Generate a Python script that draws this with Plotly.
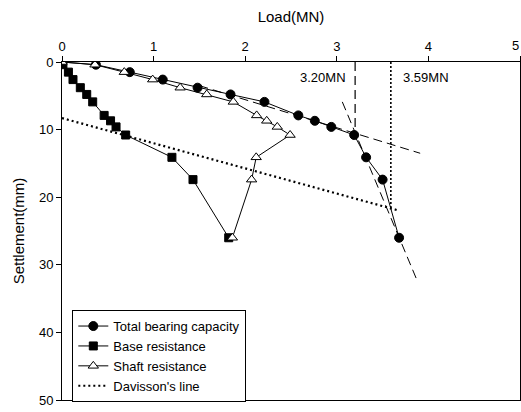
import plotly.graph_objects as go

# Static load test results: load (MN) vs pile-head settlement (mm)
settlement = [0, 0.4, 1.5, 2.6, 3.8, 4.8, 5.9, 7.9, 8.7, 9.6, 10.8, 14.1, 17.4, 26.0]
total_load = [0, 0.37, 0.74, 1.10, 1.48, 1.84, 2.21, 2.58, 2.76, 2.94, 3.19, 3.32, 3.50, 3.68]
base_load = [0, 0.01, 0.07, 0.12, 0.20, 0.27, 0.335, 0.46, 0.53, 0.59, 0.695, 1.20, 1.43, 1.82]
shaft_load = [0, 0.36, 0.68, 0.99, 1.29, 1.58, 1.87, 2.125, 2.235, 2.35, 2.49, 2.12, 2.07, 1.86]

# Davisson's offset line
davisson_load = [0, 3.67]
davisson_settle = [8.3, 21.95]

# Tangent construction lines (double-tangent method)
tangent1_load = [1.5, 3.91]
tangent1_settle = [3.5, 13.5]
tangent2_load = [3.06, 3.87]
tangent2_settle = [5.9, 32.1]

# Interpreted capacities
cap_tangent = 3.20
cap_tangent_settle = 10.5
cap_davisson = 3.59
cap_davisson_settle = 21.7

x_ticks = [0, 1, 2, 3, 4]
x_last_tick = 5
y_ticks = [0, 10, 20, 30, 40, 50]

FONT = "Arial, Liberation Sans, sans-serif"
BLACK = "#000000"

fig = go.Figure()

fig.add_trace(go.Scatter(
    x=total_load, y=settlement, mode="lines+markers", name="Total bearing capacity",
    line=dict(color=BLACK, width=1),
    marker=dict(symbol="circle", size=9, color=BLACK, line=dict(color=BLACK, width=1)),
))
fig.add_trace(go.Scatter(
    x=base_load, y=settlement, mode="lines+markers", name="Base resistance",
    line=dict(color=BLACK, width=1),
    marker=dict(symbol="square", size=8, color=BLACK, line=dict(color=BLACK, width=1)),
))
fig.add_trace(go.Scatter(
    x=shaft_load, y=settlement, mode="lines+markers", name="Shaft resistance",
    line=dict(color=BLACK, width=1),
    marker=dict(symbol="triangle-up", size=9, color="white", line=dict(color=BLACK, width=1)),
))
fig.add_trace(go.Scatter(
    x=davisson_load, y=davisson_settle, mode="lines", name="Davisson's line",
    line=dict(color=BLACK, width=2.2, dash="2px,3px"),
))

# construction lines
fig.add_trace(go.Scatter(
    x=tangent1_load, y=tangent1_settle, mode="lines", showlegend=False,
    line=dict(color=BLACK, width=1, dash="9px,5px"),
))
fig.add_trace(go.Scatter(
    x=tangent2_load, y=tangent2_settle, mode="lines", showlegend=False,
    line=dict(color=BLACK, width=1, dash="9px,5px"),
))
fig.add_trace(go.Scatter(
    x=[cap_tangent, cap_tangent], y=[0, cap_tangent_settle], mode="lines", showlegend=False,
    line=dict(color=BLACK, width=1.2, dash="9px,5px"),
))
fig.add_trace(go.Scatter(
    x=[cap_davisson, cap_davisson], y=[0, cap_davisson_settle], mode="lines", showlegend=False,
    line=dict(color=BLACK, width=1.6, dash="2px,2px"),
))

fig.add_annotation(x=cap_tangent, y=2.3, xref="x", yref="y", text=f"{cap_tangent:.2f}MN",
                   showarrow=False, xanchor="right", xshift=-7,
                   font=dict(family=FONT, size=13, color=BLACK))
fig.add_annotation(x=cap_davisson, y=2.3, xref="x", yref="y", text=f"{cap_davisson:.2f}MN",
                   showarrow=False, xanchor="left", xshift=10,
                   font=dict(family=FONT, size=13, color=BLACK))
# last top-axis label, kept inside the figure edge
fig.add_annotation(x=x_last_tick, y=1, xref="x", yref="paper", text=str(x_last_tick),
                   showarrow=False, xanchor="right", yanchor="bottom", yshift=7, xshift=1,
                   font=dict(family=FONT, size=13, color=BLACK))

fig.update_layout(
    width=521, height=412,
    margin=dict(l=62, r=1, t=62, b=12),
    paper_bgcolor="white", plot_bgcolor="white",
    font=dict(family=FONT, size=13, color=BLACK),
    xaxis=dict(
        side="top", range=[0, 5], tickvals=x_ticks + [x_last_tick],
        ticktext=[str(v) for v in x_ticks] + [""],
        showline=True, linecolor=BLACK, linewidth=1, mirror=True,
        ticks="outside", ticklen=5, tickcolor=BLACK, showgrid=False, zeroline=False,
        title=dict(text="Load(MN)", font=dict(size=15), standoff=12),
    ),
    yaxis=dict(
        range=[50, 0], tickvals=y_ticks, ticktext=[str(v) for v in y_ticks],
        showline=True, linecolor=BLACK, linewidth=1, mirror=True,
        ticks="outside", ticklen=5, tickcolor=BLACK, showgrid=False, zeroline=False,
        title=dict(text="Settlement(mm)", font=dict(size=15), standoff=10),
    ),
    legend=dict(
        x=0.0225, y=0.266, xanchor="left", yanchor="top",
        bgcolor="white", bordercolor=BLACK, borderwidth=1,
        font=dict(family=FONT, size=13, color=BLACK),
        tracegroupgap=0, itemwidth=30,
    ),
    showlegend=True,
)

fig.write_html("out.html")
